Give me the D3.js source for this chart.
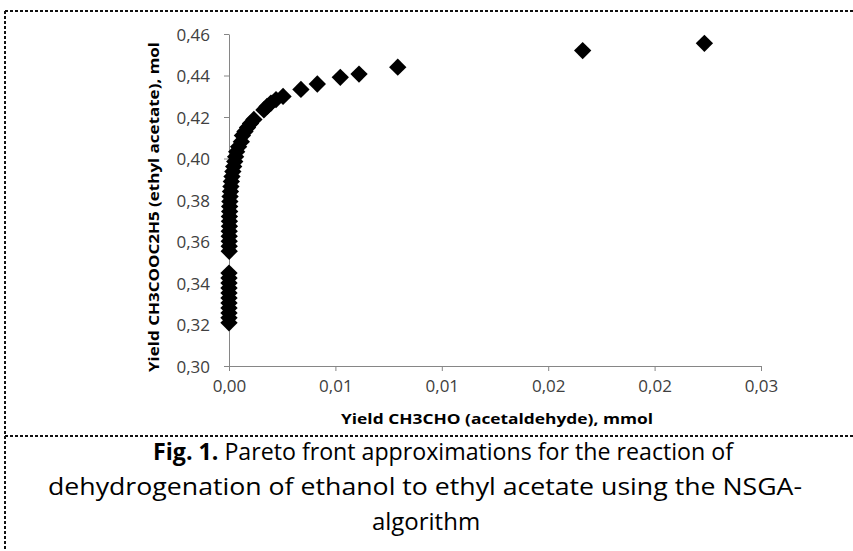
<!DOCTYPE html>
<html>
<head>
<meta charset="utf-8">
<script src="https://cdn.jsdelivr.net/npm/d3@7"></script>
<style>
  html, body { margin: 0; padding: 0; background: #fff; }
  svg { display: block; }
</style>
</head>
<body>
<svg id="chart" width="853" height="551"></svg>
<script>
// ---- data ----
const acetaldehyde = [
  0.02234, 0.01662, 0.00793, 0.00611, 0.00523, 0.00415, 0.00338, 0.00254,
  0.00221, 0.00197, 0.00179, 0.00164, 0.00117, 0.00101, 0.00087, 0.00075,
  0.00063, 0.00058, 0.00045, 0.00036, 0.00031, 0.00027, 0.00022, 0.00018,
  0.00014, 0.00011, 0.00009, 0.00007, 0.00005, 0.00004, 0.00003, 0.00003,
  0.00002, 0.00002, 0.00002, 0.00001, 0.00001, 0.00001, 0.00001, 0.00001,
  0.00000, 0.00000, 0.00000, 0.00000, 0.00000, 0.00000, 0.00000, 0.00000,
  0.00000, 0.00000, 0.00000
];
const ethylAcetate = [
  0.4555, 0.4520, 0.4440, 0.4407, 0.4391, 0.4359, 0.4333, 0.4299,
  0.4284, 0.4267, 0.4251, 0.4234, 0.4188, 0.4169, 0.4149, 0.4130,
  0.4111, 0.4081, 0.4057, 0.4033, 0.4009, 0.3985, 0.3961, 0.3937,
  0.3913, 0.3889, 0.3865, 0.3841, 0.3817, 0.3793, 0.3769, 0.3745,
  0.3721, 0.3697, 0.3673, 0.3649, 0.3625, 0.3601, 0.3577, 0.3553,
  0.3448, 0.3424, 0.3400, 0.3376, 0.3352, 0.3328, 0.3304, 0.3280,
  0.3256, 0.3232, 0.3208
];
const xTickValues = [0, 0.005, 0.01, 0.015, 0.02, 0.025];
const xTickLabels = ["0,00", "0,01", "0,01", "0,02", "0,02", "0,03"];
const yTickValues = [0.30, 0.32, 0.34, 0.36, 0.38, 0.40, 0.42, 0.44, 0.46];
const yTickLabels = ["0,30", "0,32", "0,34", "0,36", "0,38", "0,40", "0,42", "0,44", "0,46"];
const xTitle = "Yield CH3CHO (acetaldehyde), mmol";
const yTitle = "Yield CH3COOC2H5 (ethyl acetate), mol";
const captionBold = "Fig. 1.";
const captionLine1 = " Pareto front approximations for the reaction of";
const captionLine2 = "dehydrogenation of ethanol to ethyl acetate using the NSGA-";
const captionLine3 = "algorithm";

// ---- drawing ----
const svg = d3.select("#chart");
const plotL = 229, plotR = 761, plotT = 34, plotB = 366;

const x = d3.scaleLinear().domain([0, 0.025]).range([plotL, plotR]);
const y = d3.scaleLinear().domain([0.30, 0.46]).range([plotB, plotT]);

const axisFont = "'Open Sans', 'Noto Sans', sans-serif";
const axisColor = "#868686";
const textColor = "#404040";

// frame (dashed)
const frame = svg.append("g").attr("fill", "none").attr("stroke", "#111")
  .attr("stroke-width", 2).attr("stroke-dasharray", "3,2");
frame.append("line").attr("x1", 5).attr("y1", 11).attr("x2", 853).attr("y2", 11);
frame.append("line").attr("x1", 5).attr("y1", 11).attr("x2", 5).attr("y2", 551);
frame.append("line").attr("x1", 5).attr("y1", 436).attr("x2", 853).attr("y2", 436);

// y axis
const yAxis = d3.axisLeft(y).tickValues(yTickValues)
  .tickFormat((d, i) => yTickLabels[i]).tickSize(5).tickSizeOuter(0).tickPadding(14);
const gy = svg.append("g").attr("transform", `translate(${plotL},0)`).call(yAxis);
gy.select(".domain").attr("stroke", axisColor);
gy.selectAll(".tick line").attr("stroke", axisColor);
gy.selectAll(".tick text").attr("fill", textColor).attr("font-family", axisFont)
  .attr("font-size", 17).attr("dy", "0.36em");

// x axis
const xAxis = d3.axisBottom(x).tickValues(xTickValues)
  .tickFormat((d, i) => xTickLabels[i]).tickSize(5).tickSizeOuter(0).tickPadding(9);
const gx = svg.append("g").attr("transform", `translate(0,${plotB})`).call(xAxis);
gx.select(".domain").attr("stroke", axisColor);
gx.selectAll(".tick line").attr("stroke", axisColor);
gx.selectAll(".tick text").attr("fill", textColor).attr("font-family", axisFont)
  .attr("font-size", 17);

// axis titles
svg.append("text")
  .attr("x", (plotL + plotR) / 2 + 2).attr("y", 419).attr("dy", "0.35em")
  .attr("text-anchor", "middle").attr("font-family", axisFont)
  .attr("font-weight", "bold").attr("font-size", 14).attr("fill", "#000")
  .attr("textLength", 312).attr("lengthAdjust", "spacingAndGlyphs")
  .text(xTitle);

svg.append("text")
  .attr("transform", `translate(154,${(plotT + plotB) / 2 + 7}) rotate(-90)`)
  .attr("dy", "0.35em")
  .attr("text-anchor", "middle").attr("font-family", axisFont)
  .attr("font-weight", "bold").attr("font-size", 15).attr("fill", "#000")
  .attr("textLength", 330).attr("lengthAdjust", "spacingAndGlyphs")
  .text(yTitle);

// points
const pts = acetaldehyde.map((v, i) => [v, ethylAcetate[i]]);
const diamond = d3.symbol().type(d3.symbolSquare).size(150);
svg.append("g").selectAll("path").data(pts).join("path")
  .attr("d", diamond)
  .attr("transform", d => `translate(${x(d[0])},${y(d[1])}) rotate(45)`)
  .attr("fill", "#000");

// caption
const capFont = "'Open Sans', 'Noto Sans', sans-serif";
const c1 = svg.append("text").attr("x", 443).attr("y", 460)
  .attr("text-anchor", "middle").attr("font-family", capFont)
  .attr("font-size", 24).attr("fill", "#000")
  .attr("textLength", 580).attr("lengthAdjust", "spacingAndGlyphs");
c1.append("tspan").attr("font-weight", "bold").text(captionBold);
c1.append("tspan").text(captionLine1);
svg.append("text").attr("x", 425).attr("y", 495)
  .attr("text-anchor", "middle").attr("font-family", capFont)
  .attr("font-size", 24).attr("fill", "#000")
  .attr("textLength", 754).attr("lengthAdjust", "spacingAndGlyphs")
  .text(captionLine2);
svg.append("text").attr("x", 426).attr("y", 530)
  .attr("text-anchor", "middle").attr("font-family", capFont)
  .attr("font-size", 24).attr("fill", "#000")
  .text(captionLine3);
</script>
</body>
</html>
